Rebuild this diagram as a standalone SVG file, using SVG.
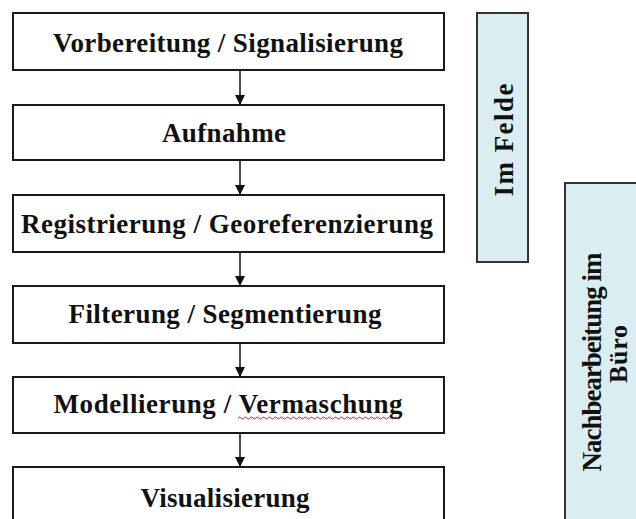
<svg xmlns="http://www.w3.org/2000/svg" width="636" height="519" viewBox="0 0 636 519">
<style>
.box{fill:#ffffff;stroke:#1a1a1a;stroke-width:2}
.side{fill:#daedf0;stroke:#333333;stroke-width:2}
.t{font-family:"Liberation Serif","Times New Roman",serif;font-weight:bold;font-size:27px;fill:#111;text-anchor:middle}
.s{font-family:"Liberation Serif","Times New Roman",serif;font-weight:bold;font-size:27px;fill:#111;text-anchor:middle}
.c{stroke:#111;stroke-width:1.5;fill:none}
</style>
<defs>
<marker id="ah" viewBox="0 0 10 10" refX="10" refY="5" markerWidth="10" markerHeight="10" markerUnits="userSpaceOnUse" orient="auto">
<path d="M0,0 L10,5 L0,10 Z" fill="#111"/>
</marker>
</defs>
<rect width="636" height="519" fill="#fff"/>
<g id="n1"><rect class="box" x="13" y="13" width="431" height="57"/><text class="t" x="228" y="52" textLength="350" lengthAdjust="spacing">Vorbereitung / Signalisierung</text></g>
<g id="n2"><rect class="box" x="13" y="105" width="431" height="55"/><text class="t" x="224" y="142" textLength="124" lengthAdjust="spacing">Aufnahme</text></g>
<g id="n3"><rect class="box" x="13" y="195" width="431" height="57"/><text class="t" x="227" y="233" textLength="412" lengthAdjust="spacing">Registrierung / Georeferenzierung</text></g>
<g id="n4"><rect class="box" x="13" y="286" width="431" height="57"/><text class="t" x="225" y="323" textLength="313" lengthAdjust="spacing">Filterung / Segmentierung</text></g>
<g id="n5"><rect class="box" x="13" y="377" width="431" height="56"/><text class="t" x="228" y="413" textLength="349" lengthAdjust="spacing">Modellierung / Vermaschung</text>
<path d="M238,418 q1.5,-2 3,0 t3,0 t3,0 t3,0 t3,0 t3,0 t3,0 t3,0 t3,0 t3,0 t3,0 t3,0 t3,0 t3,0 t3,0 t3,0 t3,0 t3,0 t3,0 t3,0 t3,0 t3,0 t3,0 t3,0 t3,0 t3,0 t3,0 t3,0 t3,0 t3,0 t3,0 t3,0 t3,0 t3,0 t3,0 t3,0 t3,0 t3,0 t3,0 t3,0 t3,0 t3,0 t3,0 t3,0 t3,0 t3,0 t3,0 t3,0 t3,0 t3,0 t3,0 t3,0 t3,0 t3,0" fill="none" stroke="#e02020" stroke-width="1"/></g>
<g id="n6"><rect class="box" x="13" y="467" width="431" height="70"/><text class="t" x="225" y="507" textLength="169" lengthAdjust="spacing">Visualisierung</text></g>
<g id="side1"><rect class="side" x="477" y="13" width="51" height="249"/><text class="s" transform="translate(513,140) rotate(-90)" textLength="113" lengthAdjust="spacing">Im Felde</text></g>
<g id="side2"><rect class="side" x="565" y="183" width="90" height="360"/><text class="s" transform="translate(601,362) rotate(-90)" textLength="219" lengthAdjust="spacing">Nachbearbeitung im</text><text class="s" style="font-size:26px" transform="translate(627,354) rotate(-90)" textLength="58" lengthAdjust="spacing">Büro</text></g>
<g id="connectors">
<line class="c" x1="240" y1="70" x2="240" y2="105" marker-end="url(#ah)"/>
<line class="c" x1="240" y1="160" x2="240" y2="195" marker-end="url(#ah)"/>
<line class="c" x1="240" y1="252" x2="240" y2="286" marker-end="url(#ah)"/>
<line class="c" x1="240" y1="343" x2="240" y2="377" marker-end="url(#ah)"/>
<line class="c" x1="240" y1="433" x2="240" y2="467" marker-end="url(#ah)"/>
</g>
</svg>
